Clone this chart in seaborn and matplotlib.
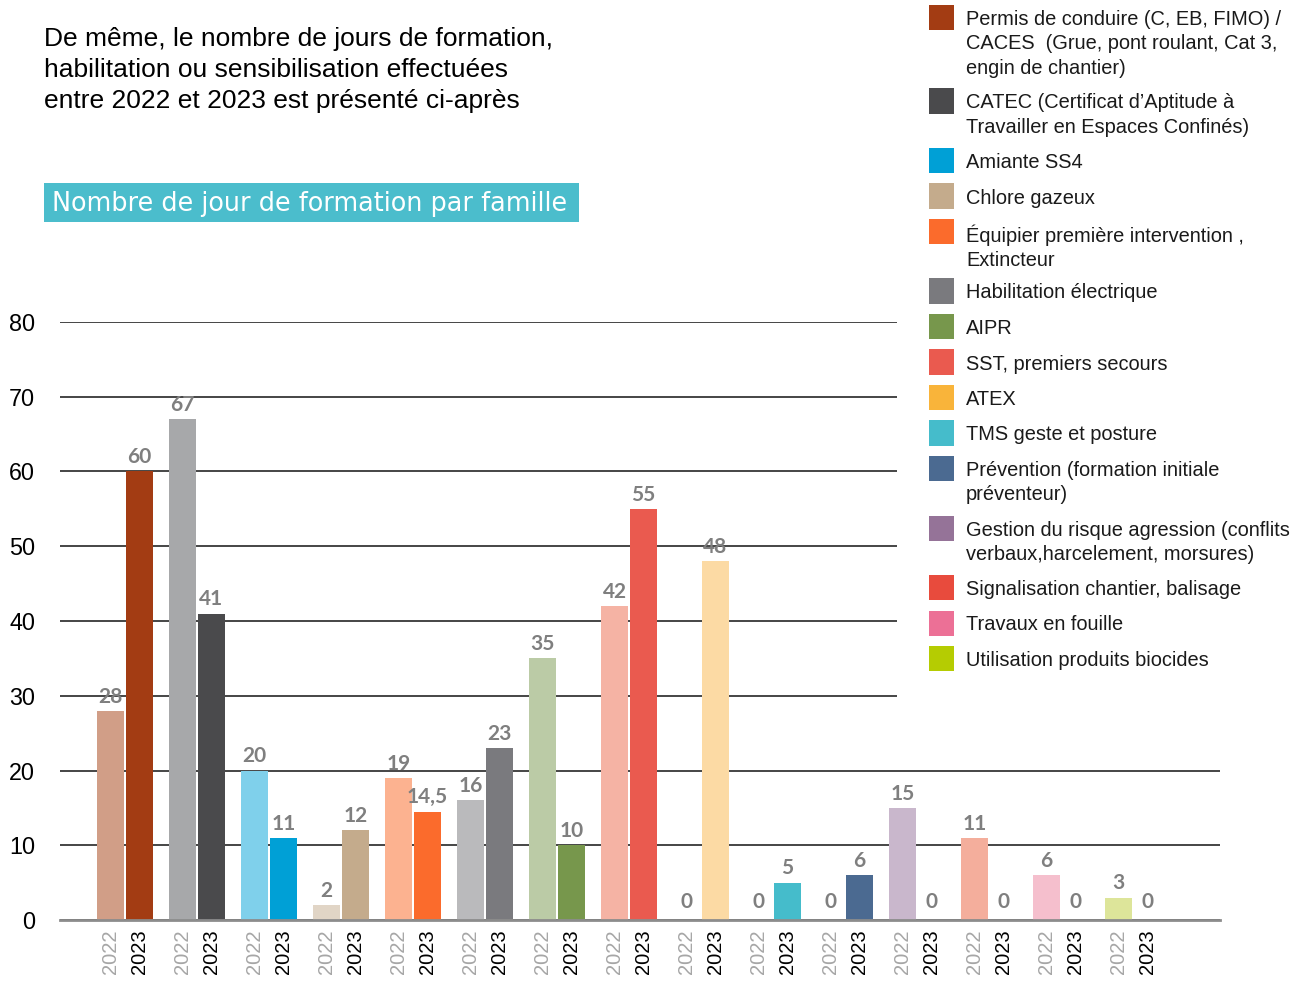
import pandas as pd
import seaborn as sns
import matplotlib.pyplot as plt
import matplotlib.patches as mpatches

# Data
familles = [
    "Permis de conduire (C, EB, FIMO) /\nCACES  (Grue, pont roulant, Cat 3,\nengin de chantier)",
    "CATEC (Certificat d\u2019Aptitude \u00e0\nTravailler en Espaces Confin\u00e9s)",
    "Amiante SS4",
    "Chlore gazeux",
    "\u00c9quipier premi\u00e8re intervention ,\nExtincteur",
    "Habilitation \u00e9lectrique",
    "AIPR",
    "SST, premiers secours",
    "ATEX",
    "TMS geste et posture",
    "Pr\u00e9vention (formation initiale\npr\u00e9venteur)",
    "Gestion du risque agression (conflits\nverbaux,harcelement, morsures)",
    "Signalisation chantier, balisage",
    "Travaux en fouille",
    "Utilisation produits biocides",
]
annees = ["2022", "2023"]
jours_2022 = [28, 67, 20, 2, 19, 16, 35, 42, 0, 0, 0, 15, 11, 6, 3]
jours_2023 = [60, 41, 11, 12, 14.5, 23, 10, 55, 48, 5, 6, 0, 0, 0, 0]

couleurs_2022 = ["#D19E87", "#A7A8AA", "#7FD0EB", "#E1D5C6", "#FCB290", "#BABABC", "#BBCBA6",
                 "#F5B3A4", "#FCDAA4", "#A3DDE5", "#A5B4C8", "#C9B7CC", "#F4AE9C", "#F5BFCD", "#DDE59A"]
couleurs_2023 = ["#A33C13", "#4A4A4C", "#00A0D6", "#C4AB8C", "#FB6B2C", "#7A7A7E", "#77974C",
                 "#EA5A4F", "#FCDAA4", "#45BCCB", "#4B6A91", "#957398", "#E84B3D", "#EC7096", "#B5CC02"]
couleurs_legende = ["#A33C13", "#4A4A4C", "#00A0D6", "#C4AB8C", "#FB6B2C", "#7A7A7E", "#77974C",
                    "#EA5A4F", "#F9B43A", "#45BCCB", "#4B6A91", "#957398", "#E84B3D", "#EC7096", "#B5CC02"]

df = pd.DataFrame({
    "famille": familles * 2,
    "annee": [annees[0]] * len(familles) + [annees[1]] * len(familles),
    "jours": jours_2022 + jours_2023,
})

W, H = 1305, 983
sns.set_theme(style="white")
plt.rcParams["font.family"] = ["Liberation Sans", "DejaVu Sans"]

fig = plt.figure(figsize=(W / 100, H / 100), dpi=100)
ax = fig.add_axes([60 / W, 1 - 920 / H, 1160 / W, (920 - 322) / H])

sns.barplot(data=df, x="famille", y="jours", hue="annee", hue_order=annees,
            width=0.8, gap=0.0625, errorbar=None, saturation=1, legend=False, ax=ax)

# recolour bars per family
for cont, cols in zip(ax.containers, [couleurs_2022, couleurs_2023]):
    for bar, c in zip(cont, cols):
        bar.set_facecolor(c)
        bar.set_edgecolor("none")
        bar.set_linewidth(0)

# value labels + year tick labels
pos, labs, lab_cols = [], [], []
for cont, yr, vals, tc in zip(ax.containers, annees, [jours_2022, jours_2023], ["#A6A6A6", "black"]):
    for bar, v in zip(cont, vals):
        x = bar.get_x() + bar.get_width() / 2
        txt = f"{v:g}".replace(".", ",")
        ax.annotate(txt, (x, v), xytext=(0, 3 if v else 6), textcoords="offset points",
                    ha="center", va="bottom", fontsize=15, fontweight="bold",
                    color="#7F7F7F", family="Lato")
        pos.append(x)
        labs.append(yr)
        lab_cols.append(tc)

ax.set_xticks(pos, labs, rotation=90, fontsize=14.5)
for lbl, c in zip(ax.get_xticklabels(), lab_cols):
    lbl.set_color(c)
ax.tick_params(axis="x", length=0, pad=7)

ax.set_xlim(-0.903, 15.208)
ax.set_ylim(0, 80)
ax.set_yticks(range(0, 81, 10))
ax.tick_params(axis="y", length=0, pad=18, labelsize=16.8, labelcolor="black")
ax.set_xlabel("")
ax.set_ylabel("")
ax.set_axisbelow(True)
ax.yaxis.grid(True, color="#262626", linewidth=1.2)
for s in ["top", "right", "left"]:
    ax.spines[s].set_visible(False)
ax.spines["bottom"].set_color("#8C8C8C")
ax.spines["bottom"].set_linewidth(2)


def fx(px):
    return px / W


def fy(py):
    return 1 - py / H


# white legend area covering the gridlines
fig.add_artist(mpatches.Rectangle((fx(897), fy(735)), 1 - fx(897), 735 / H,
                                  transform=fig.transFigure, facecolor="white",
                                  edgecolor="none", zorder=3))

# legend
y = 5
for nom, c in zip(familles, couleurs_legende):
    fig.add_artist(mpatches.Rectangle((fx(929), fy(y + 25)), 25 / W, 25 / H,
                                      transform=fig.transFigure, facecolor=c,
                                      edgecolor="none", zorder=4))
    fig.text(fx(966), fy(y + 5), nom, va="top", ha="left", fontsize=14.4,
             linespacing=1.36, color="#1A1A1A", zorder=5)
    n = nom.count("\n") + 1
    y += n * 24 + 11.5

# heading
fig.text(fx(44), fy(27), "De m\u00eame, le nombre de jours de formation,\n"
         "habilitation ou sensibilisation effectu\u00e9es\n"
         "entre 2022 et 2023 est pr\u00e9sent\u00e9 ci-apr\u00e8s",
         va="top", ha="left", fontsize=19, linespacing=1.36, color="black")

fig.add_artist(mpatches.Rectangle((fx(44), fy(222)), 535 / W, 39 / H,
                                  transform=fig.transFigure, facecolor="#4BBDCC",
                                  edgecolor="none", zorder=3))
fig.text(fx(52), fy(204), "Nombre de jour de formation par famille", va="center",
         ha="left", fontsize=18.4, color="white", family="DejaVu Sans", zorder=4)

plt.savefig("out.png", dpi=100)
plt.close()
